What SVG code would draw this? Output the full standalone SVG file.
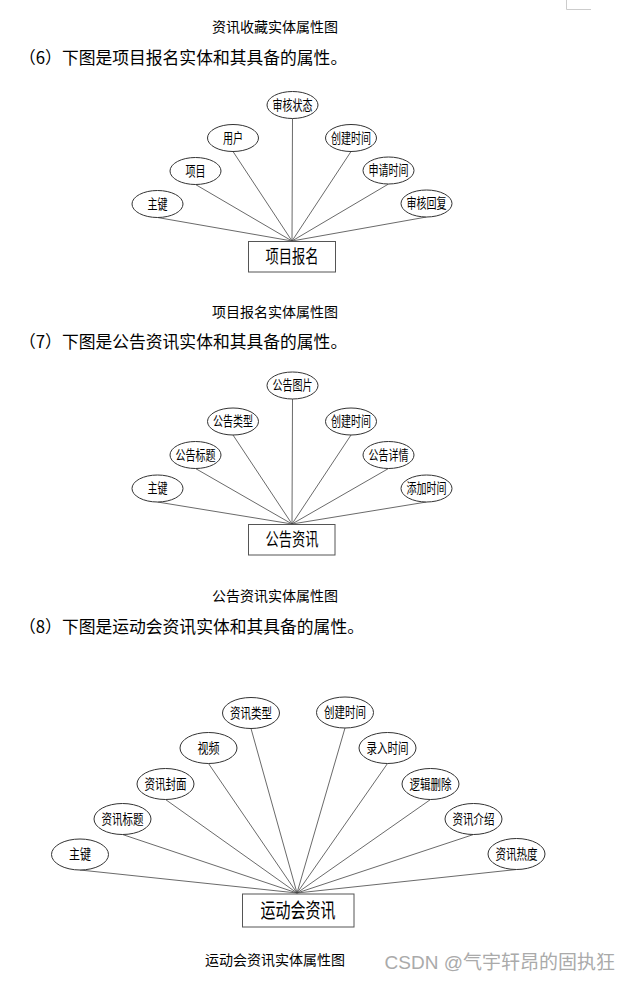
<svg xmlns="http://www.w3.org/2000/svg" width="631" height="983" viewBox="0 0 631 983">
<style>
text{font-family:"Noto Sans CJK SC","Noto Sans",sans-serif;fill:#000}
.cap{font-size:14px;text-anchor:middle}
.para{font-size:16.8px}
.attr ellipse{fill:#fff;stroke:#333;stroke-width:1}
.attr text{font-size:13.5px;text-anchor:middle}
.ent rect{fill:#fff;stroke:#555;stroke-width:1}
.ent text{font-size:18px;text-anchor:middle}
.big text{font-size:20px}
.links line{stroke:#444;stroke-width:0.8}
.mark{fill:none;stroke:#ccc;stroke-width:1}
.wm{font-family:"Liberation Sans","Noto Sans CJK SC",sans-serif;font-size:19px;fill:#aaa;text-anchor:end}
</style>
<path class="mark" d="M566.5 0V9.5H591"/>
<text class="cap" x="275" y="31.5">资讯收藏实体属性图</text>
<text class="para" x="19" y="63.5">（6）下图是项目报名实体和其具备的属性。</text>

<!-- Diagram 1 -->
<g class="links" id="links1">
<line x1="157.5" y1="217.5" x2="292" y2="241"/>
<line x1="195.5" y1="184.5" x2="292" y2="241"/>
<line x1="233" y1="151.5" x2="292" y2="241"/>
<line x1="292.5" y1="118.5" x2="292" y2="241"/>
<line x1="351" y1="151.5" x2="292" y2="241"/>
<line x1="388.5" y1="184" x2="292" y2="241"/>
<line x1="426.5" y1="217" x2="292" y2="241"/>
</g>
<g class="attr" id="d1-zhujian"><ellipse cx="157.5" cy="204" rx="25.5" ry="13.5"/><text x="157.5" y="208.5" textLength="20" lengthAdjust="spacingAndGlyphs">主键</text></g>
<g class="attr" id="d1-xiangmu"><ellipse cx="195.5" cy="171" rx="25.5" ry="13.5"/><text x="195.5" y="175.5" textLength="20" lengthAdjust="spacingAndGlyphs">项目</text></g>
<g class="attr" id="d1-yonghu"><ellipse cx="233" cy="138" rx="25.5" ry="13.5"/><text x="233" y="142.5" textLength="20" lengthAdjust="spacingAndGlyphs">用户</text></g>
<g class="attr" id="d1-shenhezhuangtai"><ellipse cx="292.5" cy="105" rx="25.5" ry="13.5"/><text x="292.5" y="109.5" textLength="40" lengthAdjust="spacingAndGlyphs">审核状态</text></g>
<g class="attr" id="d1-chuangjianshijian"><ellipse cx="351" cy="138" rx="25.5" ry="13.5"/><text x="351" y="142.5" textLength="40" lengthAdjust="spacingAndGlyphs">创建时间</text></g>
<g class="attr" id="d1-shenqingshijian"><ellipse cx="388.5" cy="170.5" rx="25.5" ry="13.5"/><text x="388.5" y="175" textLength="40" lengthAdjust="spacingAndGlyphs">申请时间</text></g>
<g class="attr" id="d1-shenhehuifu"><ellipse cx="426.5" cy="203.5" rx="25.5" ry="13.5"/><text x="426.5" y="208" textLength="40" lengthAdjust="spacingAndGlyphs">审核回复</text></g>
<g class="ent" id="d1-xiangmubaoming"><rect x="248.5" y="241.5" width="87" height="30.5"/><text x="292" y="263" textLength="53" lengthAdjust="spacingAndGlyphs">项目报名</text></g>

<text class="cap" x="275" y="317">项目报名实体属性图</text>
<text class="para" x="19" y="348">（7）下图是公告资讯实体和其具备的属性。</text>

<!-- Diagram 2 -->
<g class="links" id="links2">
<line x1="157.5" y1="502" x2="292" y2="524"/>
<line x1="195.5" y1="468.5" x2="292" y2="524"/>
<line x1="233" y1="435" x2="292" y2="524"/>
<line x1="292.5" y1="399" x2="292" y2="524"/>
<line x1="351" y1="435" x2="292" y2="524"/>
<line x1="388.5" y1="468.5" x2="292" y2="524"/>
<line x1="426.5" y1="502" x2="292" y2="524"/>
</g>
<g class="attr" id="d2-zhujian"><ellipse cx="157.5" cy="488.5" rx="25.5" ry="13.5"/><text x="157.5" y="493" textLength="20" lengthAdjust="spacingAndGlyphs">主键</text></g>
<g class="attr" id="d2-gonggaobiaoti"><ellipse cx="195.5" cy="455" rx="25.5" ry="13.5"/><text x="195.5" y="459.5" textLength="40" lengthAdjust="spacingAndGlyphs">公告标题</text></g>
<g class="attr" id="d2-gonggaoleixing"><ellipse cx="233" cy="421.5" rx="25.5" ry="13.5"/><text x="233" y="426" textLength="40" lengthAdjust="spacingAndGlyphs">公告类型</text></g>
<g class="attr" id="d2-gonggaotupian"><ellipse cx="292.5" cy="385.5" rx="25.5" ry="13.5"/><text x="292.5" y="390" textLength="40" lengthAdjust="spacingAndGlyphs">公告图片</text></g>
<g class="attr" id="d2-chuangjianshijian"><ellipse cx="351" cy="421.5" rx="25.5" ry="13.5"/><text x="351" y="426" textLength="40" lengthAdjust="spacingAndGlyphs">创建时间</text></g>
<g class="attr" id="d2-gonggaoxiangqing"><ellipse cx="388.5" cy="455" rx="25.5" ry="13.5"/><text x="388.5" y="459.5" textLength="40" lengthAdjust="spacingAndGlyphs">公告详情</text></g>
<g class="attr" id="d2-tianjiashijian"><ellipse cx="426.5" cy="488.5" rx="25.5" ry="13.5"/><text x="426.5" y="493" textLength="40" lengthAdjust="spacingAndGlyphs">添加时间</text></g>
<g class="ent" id="d2-gonggaozixun"><rect x="248.5" y="524.5" width="86.5" height="30.5"/><text x="292" y="546" textLength="53" lengthAdjust="spacingAndGlyphs">公告资讯</text></g>

<text class="cap" x="275" y="601">公告资讯实体属性图</text>
<text class="para" x="19" y="633">（8）下图是运动会资讯实体和其具备的属性。</text>

<!-- Diagram 3 -->
<g class="links" id="links3">
<line x1="80" y1="870" x2="297" y2="893"/>
<line x1="122.5" y1="834.5" x2="297" y2="893"/>
<line x1="165.5" y1="799.5" x2="297" y2="893"/>
<line x1="208.5" y1="763.5" x2="297" y2="893"/>
<line x1="251" y1="728.5" x2="297" y2="893"/>
<line x1="345" y1="728" x2="297" y2="893"/>
<line x1="387.5" y1="763.5" x2="297" y2="893"/>
<line x1="430.5" y1="799.5" x2="297" y2="893"/>
<line x1="473.5" y1="834.5" x2="297" y2="893"/>
<line x1="516.5" y1="869.5" x2="297" y2="893"/>
</g>
<g class="attr" id="d3-zhujian"><ellipse cx="80" cy="854.5" rx="28.5" ry="15.5"/><text x="80" y="859" textLength="22" lengthAdjust="spacingAndGlyphs">主键</text></g>
<g class="attr" id="d3-zixunbiaoti"><ellipse cx="122.5" cy="819" rx="28.5" ry="15.5"/><text x="122.5" y="823.5" textLength="42" lengthAdjust="spacingAndGlyphs">资讯标题</text></g>
<g class="attr" id="d3-zixunfengmian"><ellipse cx="165.5" cy="784" rx="28.5" ry="15.5"/><text x="165.5" y="788.5" textLength="42" lengthAdjust="spacingAndGlyphs">资讯封面</text></g>
<g class="attr" id="d3-shipin"><ellipse cx="208.5" cy="748" rx="28.5" ry="15.5"/><text x="208.5" y="752.5" textLength="22" lengthAdjust="spacingAndGlyphs">视频</text></g>
<g class="attr" id="d3-zixunleixing"><ellipse cx="251" cy="713" rx="28.5" ry="15.5"/><text x="251" y="717.5" textLength="42" lengthAdjust="spacingAndGlyphs">资讯类型</text></g>
<g class="attr" id="d3-chuangjianshijian"><ellipse cx="345" cy="712.5" rx="28.5" ry="15.5"/><text x="345" y="717" textLength="42" lengthAdjust="spacingAndGlyphs">创建时间</text></g>
<g class="attr" id="d3-lurushijian"><ellipse cx="387.5" cy="748" rx="28.5" ry="15.5"/><text x="387.5" y="752.5" textLength="42" lengthAdjust="spacingAndGlyphs">录入时间</text></g>
<g class="attr" id="d3-luojishanchu"><ellipse cx="430.5" cy="784" rx="28.5" ry="15.5"/><text x="430.5" y="788.5" textLength="42" lengthAdjust="spacingAndGlyphs">逻辑删除</text></g>
<g class="attr" id="d3-zixunjieshao"><ellipse cx="473.5" cy="819" rx="28.5" ry="15.5"/><text x="473.5" y="823.5" textLength="42" lengthAdjust="spacingAndGlyphs">资讯介绍</text></g>
<g class="attr" id="d3-zixunredu"><ellipse cx="516.5" cy="854" rx="28.5" ry="15.5"/><text x="516.5" y="858.5" textLength="42" lengthAdjust="spacingAndGlyphs">资讯热度</text></g>
<g class="ent big" id="d3-yundonghuizixun"><rect x="242.5" y="894" width="111.5" height="33"/><text x="298" y="918" textLength="75" lengthAdjust="spacingAndGlyphs">运动会资讯</text></g>

<text class="cap" x="275" y="965">运动会资讯实体属性图</text>
<text class="wm" x="615" y="969">CSDN @气宇轩昂的固执狂</text>
</svg>
